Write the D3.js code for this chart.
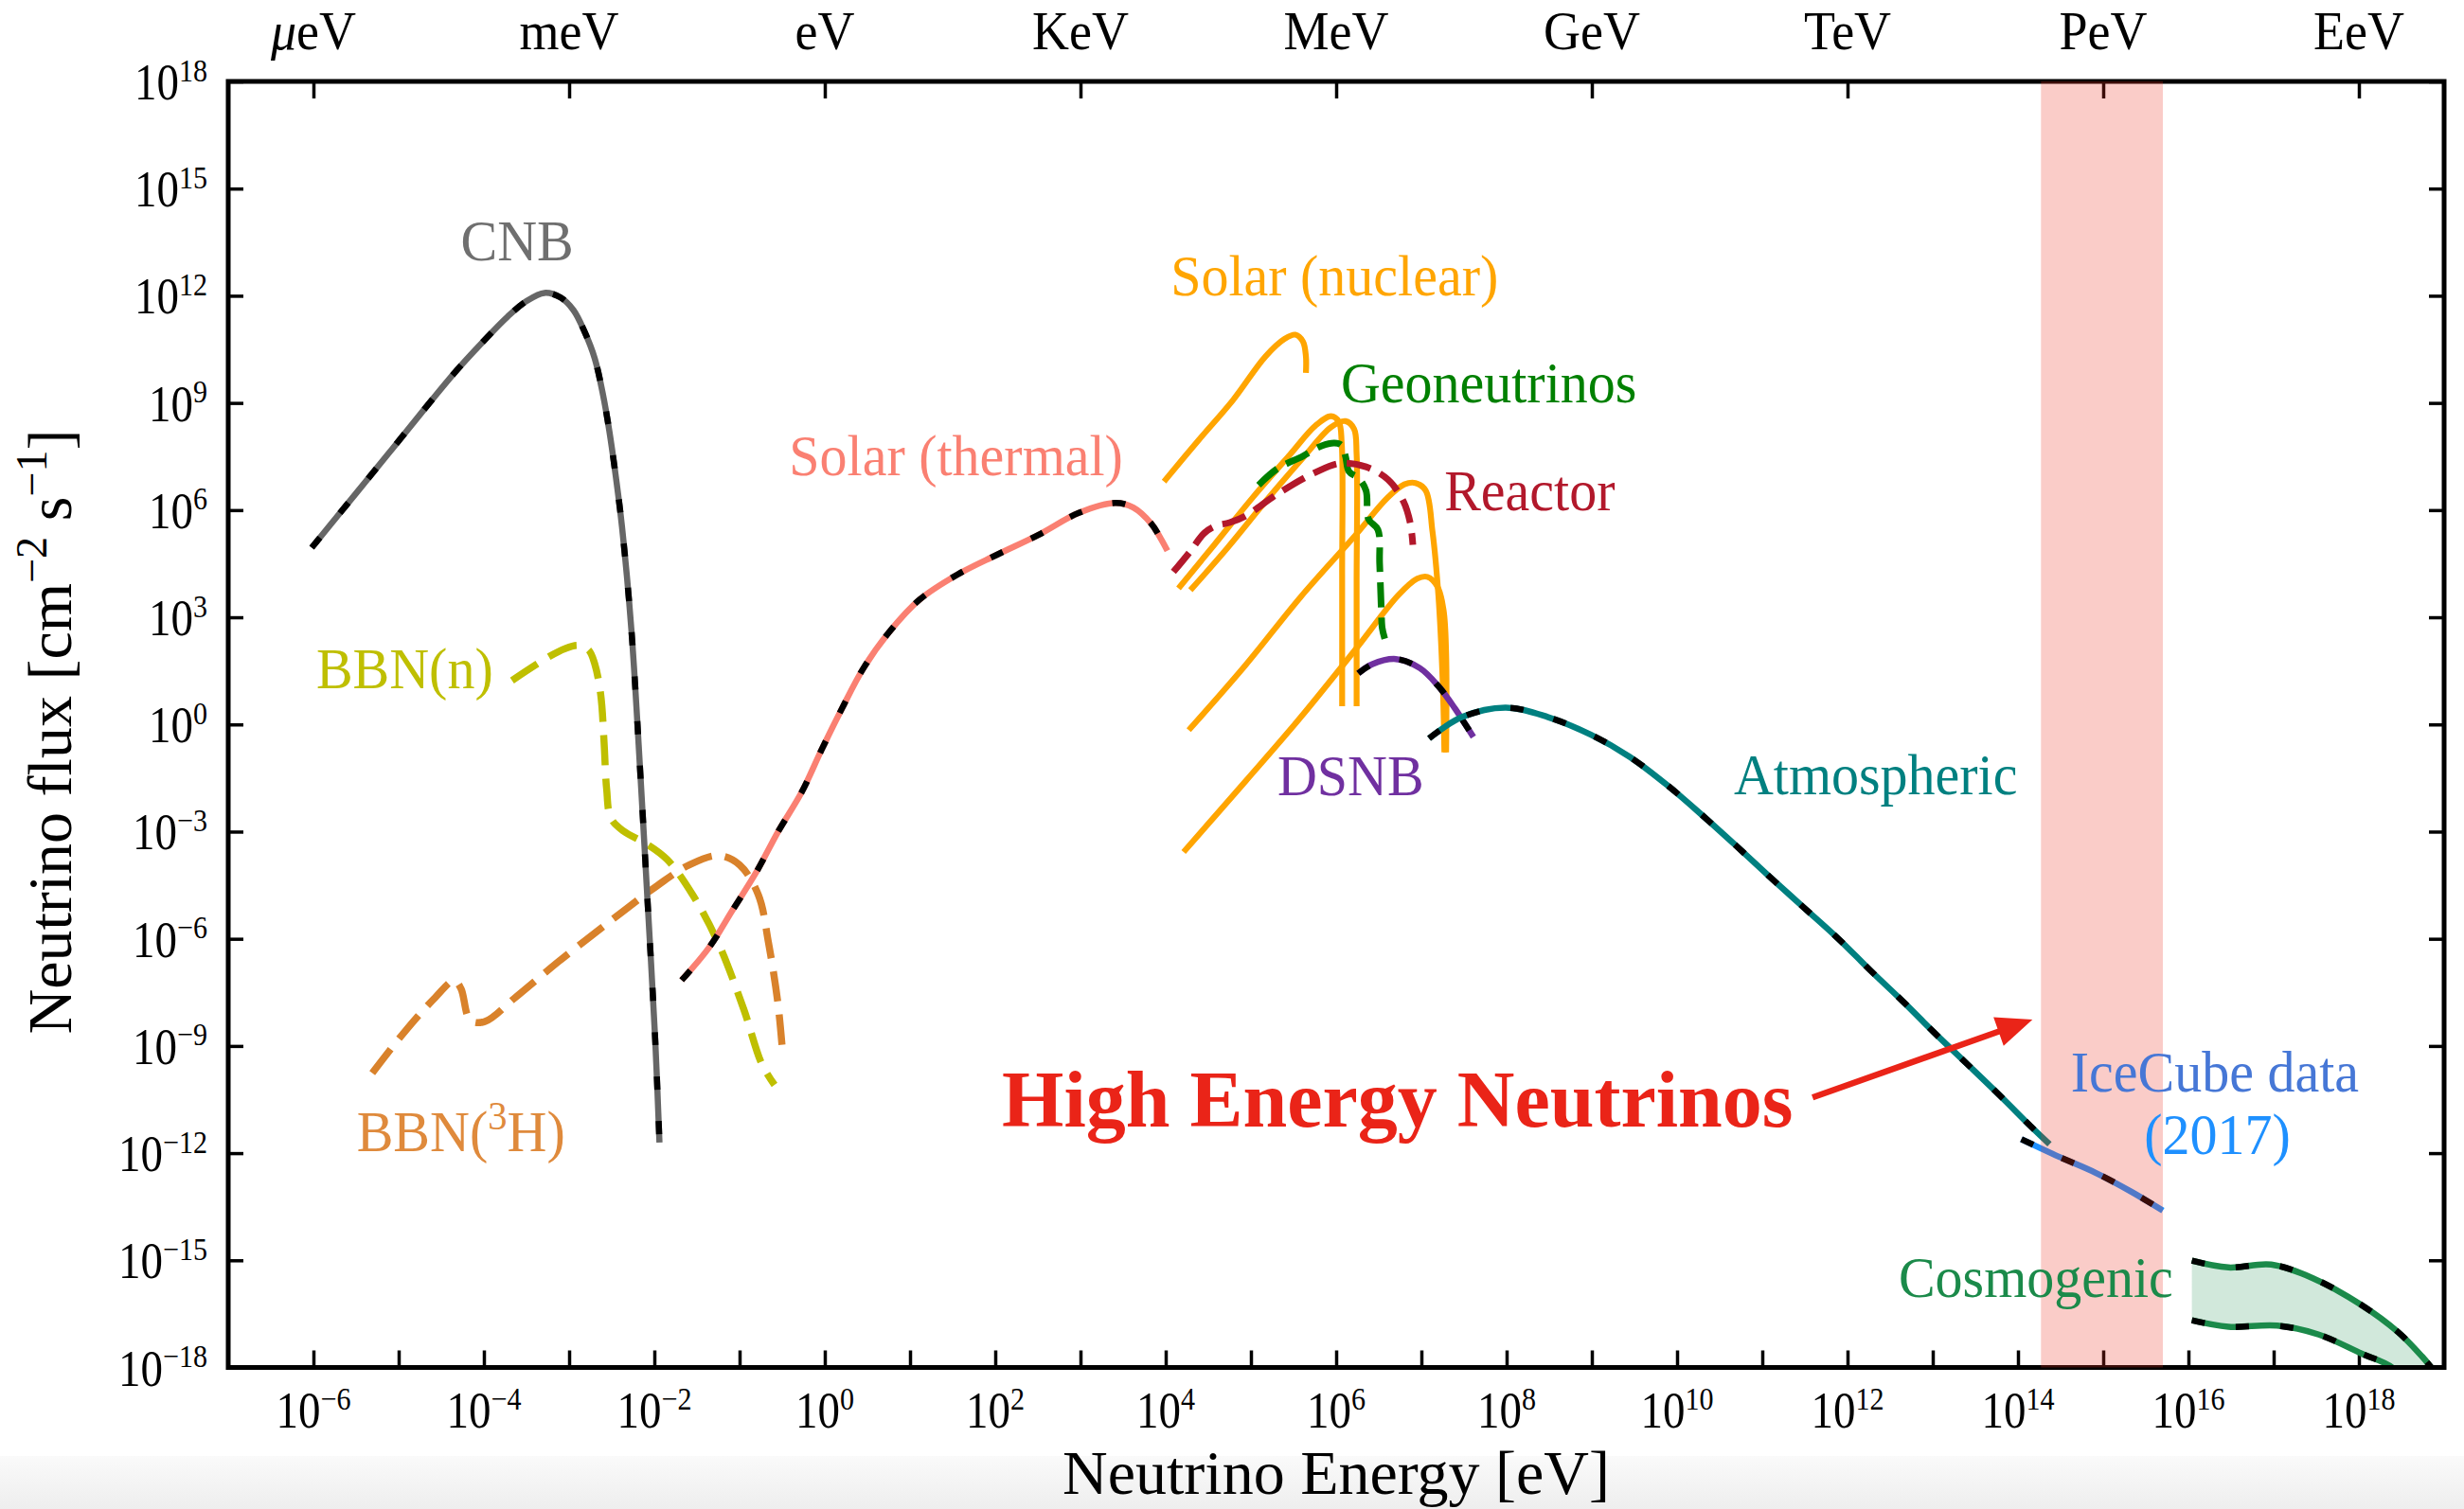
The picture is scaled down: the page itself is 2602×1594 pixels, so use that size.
<!DOCTYPE html>
<html>
<head>
<meta charset="utf-8">
<title>Neutrino flux spectrum</title>
<script src="https://cdn.jsdelivr.net/npm/d3@7/dist/d3.min.js"></script>
<style>
  html, body { margin: 0; padding: 0; background: #ffffff; }
  svg { display: block; }
  text { font-family: "Liberation Serif", "DejaVu Serif", serif; }
</style>
</head>
<body>
<svg id="chart" width="2602" height="1594"></svg>
<script>
// Each source curve: [log10(E / eV), log10(flux / cm^-2 s^-1)] pairs.
const cnb = [[-6.02,4.95],[-5.5,6.47],[-5.08,7.70],[-4.7,8.82],[-4.35,9.83],[-4.0,10.74],[-3.72,11.42],[-3.5,11.85],[-3.29,12.08],[-3.1,11.95],[-2.95,11.6],[-2.82,11.0],[-2.70,10.25],[-2.60,9.2],[-2.53,8.24],[-2.45,6.9],[-2.38,5.54],[-2.27,2.67],[-2.16,-1.56],[-2.08,-4.94],[-1.99,-8.82],[-1.94,-11.70]];
const bbnNeutron = [[-3.67,1.23],[-3.29,1.82],[-3.05,2.12],[-2.89,2.21],[-2.77,2.08],[-2.70,1.70],[-2.63,0.85],[-2.59,-0.5],[-2.56,-1.8],[-2.51,-2.62],[-2.36,-2.99],[-2.10,-3.33],[-1.85,-3.78],[-1.55,-4.77],[-1.25,-6.12],[-0.95,-7.98],[-0.74,-9.50],[-0.59,-10.09]];
const bbnTritium = [[-5.31,-9.76],[-4.95,-8.66],[-4.57,-7.64],[-4.35,-7.17],[-4.27,-7.39],[-4.16,-8.28],[-3.99,-8.32],[-3.63,-7.64],[-3.12,-6.63],[-2.53,-5.53],[-1.97,-4.52],[-1.59,-3.93],[-1.25,-3.67],[-1.00,-3.93],[-0.78,-4.77],[-0.66,-6.12],[-0.55,-7.81],[-0.49,-9.33]];
const solarThermal = [[-1.68,-7.16],[-1.36,-6.25],[-1.08,-5.19],[-0.80,-4.12],[-0.55,-3.01],[-0.27,-1.89],[-0.04,-0.72],[0.20,0.44],[0.45,1.56],[0.75,2.57],[1.11,3.49],[1.56,4.20],[2.02,4.75],[2.51,5.31],[2.98,5.92],[3.41,6.20],[3.62,6.07],[3.83,5.62],[3.94,5.21],[4.02,4.86]];
const solarPP = [[3.98,6.80],[4.39,7.97],[4.79,9.08],[5.17,10.30],[5.40,10.80],[5.52,10.91],[5.61,10.72],[5.645,10.3],[5.645,9.84]];
const solarN13 = [[4.15,3.81],[4.57,5.03],[5.02,6.35],[5.46,7.56],[5.76,8.37],[5.94,8.63],[6.03,8.48],[6.065,7.87],[6.07,4.2],[6.07,0.51]];
const solarO15 = [[4.29,3.76],[4.72,4.93],[5.17,6.24],[5.61,7.46],[5.94,8.32],[6.11,8.49],[6.21,8.27],[6.24,7.56],[6.24,4.0],[6.24,0.51]];
const solarB8 = [[4.27,-0.16],[4.94,1.67],[5.58,3.56],[6.22,5.28],[6.60,6.34],[6.80,6.72],[6.93,6.76],[7.05,6.55],[7.13,5.40],[7.20,3.60],[7.25,1.2],[7.27,-0.78]];
const solarHep = [[4.21,-3.57],[4.94,-1.58],[5.58,0.19],[6.22,2.08],[6.73,3.62],[6.95,4.08],[7.07,4.13],[7.19,3.85],[7.26,3.2],[7.29,2.0],[7.29,-0.78]];
const geoneutrinos = [[5.09,6.70],[5.31,7.16],[5.61,7.51],[5.83,7.80],[5.98,7.88],[6.06,7.82],[6.11,7.50],[6.15,7.08],[6.26,6.90],[6.35,6.55],[6.38,5.75],[6.49,5.45],[6.51,4.5],[6.53,3.2],[6.54,2.7],[6.57,2.40]];
const reactor = [[4.09,4.27],[4.28,4.82],[4.45,5.35],[4.58,5.55],[4.75,5.65],[4.94,5.84],[5.31,6.45],[5.76,7.06],[6.05,7.31],[6.35,7.21],[6.61,6.85],[6.79,6.24],[6.87,5.63],[6.90,5.03]];
const dsnb = [[6.26,1.43],[6.42,1.68],[6.70,1.83],[6.98,1.58],[7.20,1.07],[7.39,0.46],[7.50,0.06],[7.61,-0.35]];
const atmospheric = [[7.09,-0.39],[7.48,0.21],[7.99,0.47],[8.48,0.21],[8.99,-0.29],[9.44,-0.90],[9.89,-1.71],[10.29,-2.53],[10.69,-3.39],[11.08,-4.25],[11.48,-5.11],[11.88,-5.97],[12.27,-6.89],[12.67,-7.80],[13.01,-8.61],[13.41,-9.52],[13.81,-10.44],[14.15,-11.25],[14.37,-11.75]];
const icecube = [[14.04,-11.61],[14.48,-12.10],[14.91,-12.55],[15.33,-13.08],[15.70,-13.61]];
const cosmogenicHigh = [[16.04,-15.01],[16.47,-15.20],[16.97,-15.12],[17.46,-15.50],[18.03,-16.25],[18.46,-17.01],[18.74,-17.69],[18.85,-18.0],[19.0,-18.45]];
const cosmogenicLow = [[16.04,-16.68],[16.47,-16.86],[17.04,-16.83],[17.53,-17.08],[18.03,-17.61],[18.39,-18.0],[18.55,-18.5]];

// Shaded PeV window (log10 E range)
const highEnergyBand = [14.27, 15.70];
// "High Energy Neutrinos" arrow, tail and tip in log10 data units
const arrowTail = [11.59, -10.44];
const arrowTip = [14.17, -8.26];

// Axis ticks and unit names
const xTickExponents = d3.range(-6, 19);
const xLabelExponents = d3.range(-6, 19, 2);
const yTickExponents = d3.range(-18, 19, 3);
const unitExponents = d3.range(-6, 19, 3);
const unitNames = ["μeV", "meV", "eV", "KeV", "MeV", "GeV", "TeV", "PeV", "EeV"];

// Curve labels: text parts, anchor [log10 E, log10 flux] of the baseline centre
const curveLabels = [
  { parts: [{ t: "CNB" }], at: [-3.61, 12.99], color: "#6f6f6f" },
  { parts: [{ t: "BBN(n)" }], at: [-4.93, 1.01], color: "#bfbf00" },
  { parts: [{ t: "BBN(" }, { t: "3", sup: true }, { t: "H)" }], at: [-4.27, -11.95], color: "#df8a3c" },
  { parts: [{ t: "Solar (thermal)" }], at: [1.54, 6.98], color: "#fa8072" },
  { parts: [{ t: "Solar (nuclear)" }], at: [5.98, 12.01], color: "#ffa500" },
  { parts: [{ t: "Geoneutrinos" }], at: [7.79, 9.02], color: "#008000" },
  { parts: [{ t: "Reactor" }], at: [8.27, 6.0], color: "#b2182b" },
  { parts: [{ t: "DSNB" }], at: [6.17, -1.98], color: "#7030a0" },
  { parts: [{ t: "Atmospheric" }], at: [12.33, -1.96], color: "#008080" },
  { parts: [{ t: "IceCube data" }], at: [16.31, -10.28], color: "#4677d6" },
  { parts: [{ t: "(2017)" }], at: [16.34, -12.03], color: "#1e90ff" },
  { parts: [{ t: "Cosmogenic" }], at: [14.21, -16.03], color: "#1b8a4a" }
];

const W = 2602, H = 1594;
const M = { left: 241, right: 2581, top: 86, bottom: 1444.5 };

const x = d3.scaleLog().domain([1e-7, 1e19]).range([M.left, M.right]);
const y = d3.scaleLog().domain([1e-18, 1e18]).range([M.bottom, M.top]);
const px = e => x(Math.pow(10, e));
const py = e => y(Math.pow(10, e));

const svg = d3.select("#chart");
const defs = svg.append("defs");

defs.append("clipPath").attr("id", "plot-clip").append("rect")
  .attr("x", M.left).attr("y", M.top)
  .attr("width", M.right - M.left).attr("height", M.bottom - M.top);

const floor = defs.append("linearGradient").attr("id", "floor")
  .attr("x1", 0).attr("y1", 0).attr("x2", 0).attr("y2", 1);
floor.append("stop").attr("offset", 0).attr("stop-color", "#fafafa");
floor.append("stop").attr("offset", 1).attr("stop-color", "#eeeeee");

svg.append("rect").attr("width", W).attr("height", H).attr("fill", "#ffffff");
svg.append("rect").attr("x", 0).attr("y", 1538).attr("width", W).attr("height", H - 1538)
  .attr("fill", "url(#floor)");

// ---------- ticks (drawn inward) ----------
function styleAxis(g) {
  g.select(".domain").remove();
  g.selectAll(".tick text").remove();
  g.selectAll(".tick line").attr("stroke", "#000").attr("stroke-width", 3.5);
}
const axes = svg.append("g");
axes.append("g").attr("transform", `translate(0,${M.bottom})`)
  .call(d3.axisBottom(x).tickValues(xTickExponents.map(e => Math.pow(10, e))).tickSize(-18))
  .call(styleAxis);
axes.append("g").attr("transform", `translate(0,${M.top})`)
  .call(d3.axisTop(x).tickValues(unitExponents.map(e => Math.pow(10, e))).tickSize(-18))
  .call(styleAxis);
axes.append("g").attr("transform", `translate(${M.left},0)`)
  .call(d3.axisLeft(y).tickValues(yTickExponents.map(e => Math.pow(10, e))).tickSize(-16))
  .call(styleAxis);
axes.append("g").attr("transform", `translate(${M.right},0)`)
  .call(d3.axisRight(y).tickValues(yTickExponents.map(e => Math.pow(10, e))).tickSize(-16))
  .call(styleAxis);

// ---------- curves ----------
const line = d3.line()
  .x(d => px(d[0])).y(d => py(d[1]))
  .curve(d3.curveCatmullRom.alpha(0.5));

const plot = svg.append("g").attr("clip-path", "url(#plot-clip)");

function solid(data, color, width) {
  return plot.append("path").attr("d", line(data)).attr("fill", "none")
    .attr("stroke", color).attr("stroke-width", width)
    .attr("stroke-linejoin", "round").attr("stroke-linecap", "butt");
}
function dashed(data, color, width, dash) {
  return solid(data, color, width).attr("stroke-dasharray", dash);
}
// colored line with short black dashes on top
function striped(data, color, width) {
  solid(data, color, width);
  dashed(data, "#000000", width, "14 33");
}

// cosmogenic band fill
const upperPath = line(cosmogenicHigh);
const lowerPath = line(cosmogenicLow.slice().reverse());
plot.append("path")
  .attr("d", upperPath + "L" + lowerPath.slice(1) + "Z")
  .attr("fill", "#1b8a4a").attr("fill-opacity", 0.2).attr("stroke", "none");

dashed(bbnTritium, "#d9822b", 7.5, "32 14");
dashed(bbnNeutron, "#bfbf00", 7.5, "32 14");
striped(cnb, "#666666", 6.5);
striped(solarThermal, "#fa8072", 6.5);
[solarPP, solarN13, solarO15, solarB8, solarHep].forEach(d => solid(d, "#ffa500", 6.2));
dashed(geoneutrinos, "#008000", 7, "26 11");
dashed(reactor, "#b2182b", 7, "26 11");
striped(dsnb, "#7030a0", 6.5);
striped(atmospheric, "#008080", 6.5);
striped(icecube, "#1e90ff", 6.5);
striped(cosmogenicHigh, "#1b8a4a", 6.5);
striped(cosmogenicLow, "#1b8a4a", 6.5);

// ---------- frame ----------
svg.append("rect")
  .attr("x", M.left).attr("y", M.top)
  .attr("width", M.right - M.left).attr("height", M.bottom - M.top)
  .attr("fill", "none").attr("stroke", "#000").attr("stroke-width", 5);

// ---------- shaded PeV window ----------
svg.append("rect")
  .attr("x", px(highEnergyBand[0])).attr("y", M.top)
  .attr("width", px(highEnergyBand[1]) - px(highEnergyBand[0]))
  .attr("height", M.bottom - M.top)
  .attr("fill", "#eb3223").attr("fill-opacity", 0.25);

// ---------- text helpers ----------
function richText(parent, parts, size, supScale, supShift) {
  const t = parent.append("text").attr("font-size", size);
  let raised = false;
  parts.forEach(p => {
    const s = t.append("tspan").text(p.t);
    if (p.sup) {
      s.attr("font-size", size * supScale);
      if (!raised) { s.attr("dy", -supShift); raised = true; }
    } else if (raised) {
      s.attr("dy", supShift); raised = false;
    }
  });
  return t;
}
const minus = e => (e < 0 ? "\u2212" + (-e) : String(e));

// bottom tick labels
const tickSize = 47;
xLabelExponents.forEach(e => {
  const g = svg.append("g").attr("transform", `translate(${px(e)},1508) scale(1,1.15)`);
  richText(g, [{ t: "10" }, { t: minus(e), sup: true }], tickSize, 0.64, tickSize * 0.36)
    .attr("text-anchor", "middle").attr("fill", "#000");
});
// left tick labels
yTickExponents.forEach(e => {
  const g = svg.append("g").attr("transform", `translate(219,${py(e) + 19}) scale(1,1.15)`);
  richText(g, [{ t: "10" }, { t: minus(e), sup: true }], tickSize, 0.64, tickSize * 0.36)
    .attr("text-anchor", "end").attr("fill", "#000");
});
// top energy-unit labels
unitExponents.forEach((e, i) => {
  const g = svg.append("g").attr("transform", `translate(${px(e)},52) scale(1,1.06)`);
  const t = g.append("text").attr("font-size", 54).attr("text-anchor", "middle").attr("fill", "#000");
  const name = unitNames[i];
  if (name.startsWith("μ")) {
    t.append("tspan").attr("font-style", "italic").text("μ");
    t.append("tspan").text(name.slice(1));
  } else {
    t.text(name);
  }
});

// axis titles
svg.append("text")
  .attr("x", (M.left + M.right) / 2).attr("y", 1578)
  .attr("font-size", 66).attr("text-anchor", "middle").attr("fill", "#000")
  .text("Neutrino Energy [eV]");

const yTitle = svg.append("g").attr("transform", "translate(75,773) rotate(-90)");
richText(yTitle, [{ t: "Neutrino flux [cm" }, { t: "\u22122", sup: true }, { t: " s" }, { t: "\u22121", sup: true }, { t: "]" }], 66, 0.7, 26)
  .attr("text-anchor", "middle").attr("fill", "#000");

// curve labels
curveLabels.forEach(l => {
  const g = svg.append("g").attr("transform", `translate(${px(l.at[0])},${py(l.at[1])}) scale(1,1.05)`);
  richText(g, l.parts, 58, 0.7, 22).attr("text-anchor", "middle").attr("fill", l.color);
});

// ---------- High Energy Neutrinos callout ----------
svg.append("text")
  .attr("x", px(6.72)).attr("y", py(-11.26))
  .attr("font-size", 84).attr("font-weight", "bold").attr("text-anchor", "middle")
  .attr("fill", "#ea2418")
  .text("High Energy Neutrinos");

const tail = [px(arrowTail[0]), py(arrowTail[1])];
const tip = [px(arrowTip[0]), py(arrowTip[1])];
const dx = tip[0] - tail[0], dy = tip[1] - tail[1];
const len = Math.hypot(dx, dy);
const ux = dx / len, uy = dy / len;
const headLen = 38, headHalf = 16;
const base = [tip[0] - ux * headLen, tip[1] - uy * headLen];
svg.append("line")
  .attr("x1", tail[0]).attr("y1", tail[1])
  .attr("x2", base[0] + ux * 2).attr("y2", base[1] + uy * 2)
  .attr("stroke", "#ea2418").attr("stroke-width", 6.5);
svg.append("path")
  .attr("d", `M${tip[0]},${tip[1]}L${base[0] - uy * headHalf},${base[1] + ux * headHalf}L${base[0] + uy * headHalf},${base[1] - ux * headHalf}Z`)
  .attr("fill", "#ea2418");
</script>
</body>
</html>
